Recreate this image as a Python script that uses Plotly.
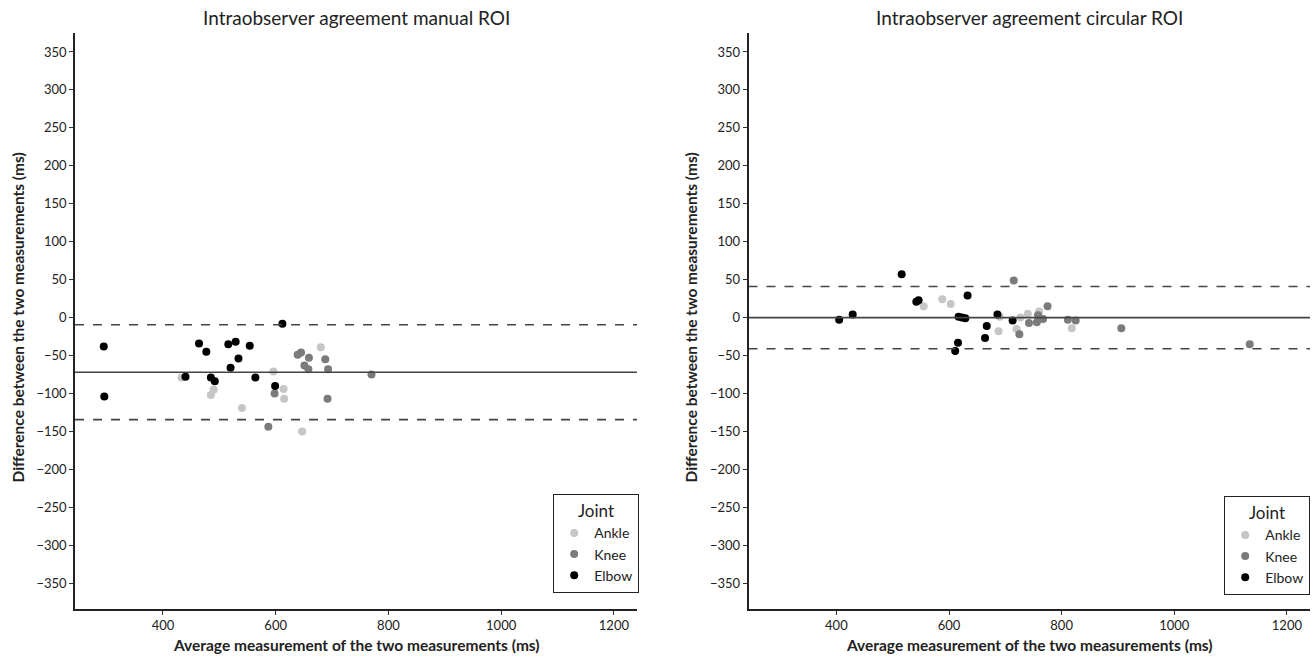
import plotly.graph_objects as go

# ---------------- data ----------------
joints = ["Ankle", "Knee", "Elbow"]
joint_colors = ["#c6c6c6", "#7b7b7b", "#000000"]

# Manual ROI (left panel)
manual_ankle_x = [433, 490, 485, 540, 596, 614, 615, 647, 680]
manual_ankle_y = [-79, -95, -102, -119, -71, -94, -107, -150, -39]
manual_knee_x = [587, 598, 639, 645, 659, 651, 658, 688, 693, 692, 770]
manual_knee_y = [-144, -100, -49, -46, -53, -63, -68, -55, -68, -107, -75]
manual_elbow_x = [295, 296, 612, 464, 477, 516, 529, 554, 534, 520, 440, 485, 492, 564, 599]
manual_elbow_y = [-38, -104, -8, -34, -45, -35, -32, -37, -54, -66, -78, -79, -84, -79, -90]
manual_mean = -72
manual_upper = -9.5
manual_lower = -134.5

# Circular ROI (right panel)
circ_ankle_x = [555, 588, 603, 690, 688, 720, 727, 740, 760, 818]
circ_ankle_y = [15, 24, 18, 1, -18, -15, 0, 5, 8, -14]
circ_knee_x = [715, 725, 742, 756, 758, 767, 775, 811, 825, 906, 1134]
circ_knee_y = [49, -22, -7, -6, 3, -2, 15, -3, -4, -14, -35]
circ_elbow_x = [405, 429, 516, 542, 546, 633, 617, 623, 629, 616, 611, 667, 664, 686, 713]
circ_elbow_y = [-3, 4, 57, 21, 23, 29, 1, 0, -1, -33, -44, -11, -27, 4, -4]
circ_mean = 0
circ_upper = 41
circ_lower = -41

x_range = [244, 1241]
y_range = [-384, 375]
x_ticks = [400, 600, 800, 1000, 1200]
y_ticks = list(range(-350, 351, 50))

titles = ["Intraobserver agreement manual ROI", "Intraobserver agreement circular ROI"]
x_title = "Average measurement of the two measurements (ms)"
y_title = "Difference between the two measurements (ms)"

# ---------------- figure ----------------
FONT = "Lato, 'Open Sans', sans-serif"
W, H = 1315, 658
ML, MR, MT, MB = 75, 5, 33, 49
PW = W - ML - MR
PH = H - MT - MB
dom1 = [0, (637 - ML) / PW]
dom2 = [(748.5 - ML) / PW, 1]

fig = go.Figure()

panels = [
    ("x", "y", "legend", [(manual_ankle_x, manual_ankle_y), (manual_knee_x, manual_knee_y), (manual_elbow_x, manual_elbow_y)],
     (manual_mean, manual_upper, manual_lower)),
    ("x2", "y2", "legend2", [(circ_ankle_x, circ_ankle_y), (circ_knee_x, circ_knee_y), (circ_elbow_x, circ_elbow_y)],
     (circ_mean, circ_upper, circ_lower)),
]

for xa, ya, leg, series, (m, up, lo) in panels:
    for (name, col, (xs, ys)) in zip(joints, joint_colors, series):
        fig.add_trace(go.Scatter(
            x=xs, y=ys, mode="markers", name=name, xaxis=xa, yaxis=ya,
            legend=leg, marker=dict(color=col, size=8, line=dict(width=0)),
        ))
    for val, dash in [(m, "solid"), (up, "dash"), (lo, "dash")]:
        fig.add_trace(go.Scatter(
            x=x_range, y=[val, val], mode="lines", xaxis=xa, yaxis=ya,
            showlegend=False, hoverinfo="skip",
            line=dict(color="#444444", width=1.6, dash=dash),
        ))

axis_common = dict(
    showgrid=False, zeroline=False, showline=True, linecolor="#222222", linewidth=1.5,
    ticks="outside", ticklen=4, tickwidth=1, tickcolor="#333333",
    tickfont=dict(family=FONT, size=13, color="#222222"),
)

fig.update_layout(
    width=W, height=H,
    margin=dict(l=ML, r=MR, t=MT, b=MB, autoexpand=False),
    plot_bgcolor="white", paper_bgcolor="white",
    font=dict(family=FONT, color="#222222"),
    xaxis=dict(domain=dom1, range=x_range, tickvals=x_ticks, anchor="y", **axis_common),
    yaxis=dict(domain=[0, 1], range=y_range, tickvals=y_ticks, anchor="x", **axis_common),
    xaxis2=dict(domain=dom2, range=x_range, tickvals=x_ticks, anchor="y2", **axis_common),
    yaxis2=dict(domain=[0, 1], range=y_range, tickvals=y_ticks, anchor="x2", **axis_common),
)

legend_common = dict(
    bordercolor="#222222", borderwidth=1.2, bgcolor="white",
    font=dict(family=FONT, size=14, color="#222222"),
    title=dict(text="Joint", side="top center", font=dict(family=FONT, size=17, color="#222222")),
    xanchor="right", yanchor="bottom", tracegroupgap=0, itemsizing="trace",
)
fig.update_layout(
    legend=dict(x=(639 - ML) / PW, y=(H - MB - 593) / PH, **legend_common),
    legend2=dict(x=1.0, y=(H - MB - 595) / PH, **legend_common),
)

# Titles and axis titles as annotations
for dom, t in zip([dom1, dom2], titles):
    cx = (dom[0] + dom[1]) / 2
    fig.add_annotation(text=t, xref="paper", yref="paper", x=cx, y=1 + 15 / PH,
                       showarrow=False, xanchor="center", yanchor="middle",
                       font=dict(family=FONT, size=19, color="#222222"))
    fig.add_annotation(text="<b>" + x_title + "</b>", xref="paper", yref="paper", x=cx, y=-36 / PH,
                       showarrow=False, xanchor="center", yanchor="middle",
                       font=dict(family=FONT, size=15.5, color="#222222"))

for xpix in [17, 690]:
    fig.add_annotation(text="<b>" + y_title + "</b>", xref="paper", yref="paper",
                       x=(xpix - ML) / PW, y=(H - MB - 317.5) / PH, textangle=-90,
                       showarrow=False, xanchor="center", yanchor="middle",
                       font=dict(family=FONT, size=15.5, color="#222222"))

fig.write_html(
    "out.html",
    config={"displayModeBar": False},
    post_script="document.body.style.margin='0';document.body.style.padding='0';document.body.style.overflow='hidden';",
)
